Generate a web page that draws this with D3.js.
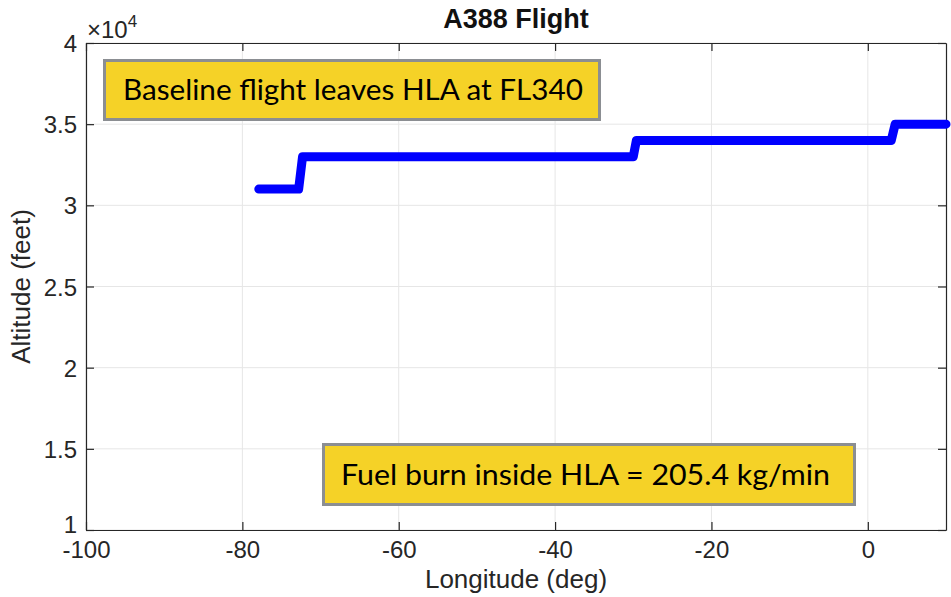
<!DOCTYPE html>
<html><head><meta charset="utf-8">
<script src="https://cdn.jsdelivr.net/npm/d3@7"></script>
<style>body{margin:0;background:#fff}svg{display:block}</style>
</head><body>
<svg id="c" width="951" height="597"></svg>
<script>
const longitude = [-77.9, -72.8, -72.3, -30.0, -29.6, 3.0, 3.5, 10];
const altitude  = [31000, 31000, 33000, 33000, 34000, 34000, 35000, 35000];
const xTicks = [-100, -80, -60, -40, -20, 0];
const yTicks = [1, 1.5, 2, 2.5, 3, 3.5, 4];
const title = "A388 Flight";
const xLabel = "Longitude (deg)";
const yLabel = "Altitude (feet)";
const notes = ["Baseline flight leaves HLA at FL340", "Fuel burn inside HLA = 205.4 kg/min"];

const svg = d3.select("#c");
const m = {l: 86, r: 946, t: 43, b: 530};
const x = d3.scaleLinear().domain([-100, 10]).range([m.l, m.r]);
const y = d3.scaleLinear().domain([1, 4]).range([m.b, m.t]);
const txt = "#262626";
const font = "'Liberation Sans', Arial, sans-serif";

// grid
svg.append("g").selectAll("line").data(xTicks).join("line")
  .attr("x1", d => x(d)).attr("x2", d => x(d)).attr("y1", m.t).attr("y2", m.b)
  .attr("stroke", "#e6e6e6").attr("stroke-width", 1);
svg.append("g").selectAll("line").data(yTicks).join("line")
  .attr("y1", d => y(d)).attr("y2", d => y(d)).attr("x1", m.l).attr("x2", m.r)
  .attr("stroke", "#e6e6e6").attr("stroke-width", 1);

// axes (inward ticks)
const xa = svg.append("g").attr("transform", `translate(0,${m.b})`)
  .call(d3.axisBottom(x).tickValues(xTicks).tickSizeInner(-8).tickSizeOuter(0).tickPadding(16).tickFormat(d => String(d)));
const xt = svg.append("g").attr("transform", `translate(0,${m.t})`)
  .call(d3.axisTop(x).tickValues(xTicks).tickSizeInner(-8).tickSizeOuter(0).tickFormat(""));
const ya = svg.append("g").attr("transform", `translate(${m.l},0)`)
  .call(d3.axisLeft(y).tickValues(yTicks).tickSizeInner(-8).tickSizeOuter(0).tickPadding(9).tickFormat(d => String(d)));
const yr = svg.append("g").attr("transform", `translate(${m.r},0)`)
  .call(d3.axisRight(y).tickValues(yTicks).tickSizeInner(-8).tickSizeOuter(0).tickFormat(""));
[xa, xt, ya, yr].forEach(g => {
  g.attr("font-size", null).attr("font-family", null);
  g.select(".domain").attr("stroke", txt).attr("stroke-width", 1.2);
  g.selectAll(".tick line").attr("stroke", txt).attr("stroke-width", 1.2);
  g.selectAll("text").attr("fill", txt).style("font-size", "24px").style("font-family", font);
});
xa.selectAll("text").attr("dy", "0.5em");
ya.selectAll("text").attr("dy", "0.36em");
ya.selectAll(".tick").filter(d => d === 1).select("text").attr("dy", "0.1em");

// exponent
const ex = svg.append("text").attr("x", m.l + 1).attr("y", 38).attr("fill", txt)
  .style("font-family", font).style("font-size", "24px");
ex.append("tspan").text("\u00d710");
ex.append("tspan").attr("dy", -11).style("font-size", "17px").text("4");

// line
const line = d3.line().x((d, i) => x(longitude[i])).y(d => y(d / 10000));
svg.append("path").datum(altitude).attr("d", line)
  .attr("fill", "none").attr("stroke", "#0000ff").attr("stroke-width", 9)
  .attr("stroke-linecap", "round").attr("stroke-linejoin", "round");

// title & labels
svg.append("text").attr("x", 516).attr("y", 28).attr("text-anchor", "middle")
  .style("font-family", font).attr("font-weight", "bold").style("font-size", "27px").attr("fill", "#111").text(title);
svg.append("text").attr("x", (m.l + m.r) / 2).attr("y", 588).attr("text-anchor", "middle")
  .style("font-family", font).style("font-size", "26px").attr("fill", txt).text(xLabel);
svg.append("text").attr("transform", `translate(30,${(m.t + m.b) / 2}) rotate(-90)`).attr("text-anchor", "middle")
  .style("font-family", font).style("font-size", "26px").attr("fill", txt).text(yLabel);

// annotation boxes
const boxes = [
  {x0: 103, y0: 59, x1: 601, y1: 121, tx: 123, by: 100, w: 460},
  {x0: 322, y0: 443, x1: 856, y1: 506, tx: 341, by: 485, w: 489}
];
boxes.forEach((b, i) => {
  svg.append("rect").attr("x", b.x0 + 1.5).attr("y", b.y0 + 1.5)
    .attr("width", b.x1 - b.x0 - 3).attr("height", b.y1 - b.y0 - 3)
    .attr("fill", "#f5d227").attr("stroke", "#8b8e92").attr("stroke-width", 3);
  svg.append("text").attr("x", b.tx).attr("y", b.by)
    .style("font-family", "Lato, 'Open Sans', sans-serif").style("font-size", "28px").attr("fill", "#000")
    .attr("textLength", b.w).attr("lengthAdjust", "spacingAndGlyphs")
    .text(notes[i]);
});
</script>
</body></html>
